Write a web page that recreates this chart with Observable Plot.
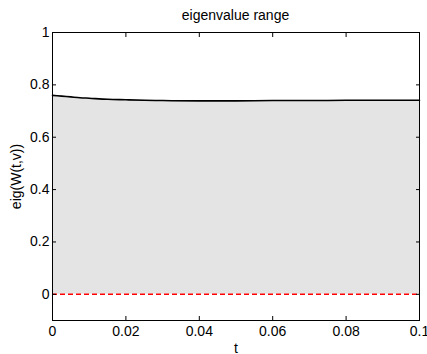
<!DOCTYPE html>
<html>
<head>
<meta charset="utf-8">
<script src="https://cdn.jsdelivr.net/npm/d3@7"></script>
<script src="https://cdn.jsdelivr.net/npm/@observablehq/plot@0.6"></script>
<style>
  html, body { margin: 0; padding: 0; background: #fff; }
  #chart { position: relative; width: 427px; height: 354px; }
</style>
</head>
<body>
<div id="chart"></div>
<script>
const tValues = [0, 0.0025, 0.005, 0.0075, 0.01, 0.015, 0.02, 0.025, 0.03, 0.04, 0.05, 0.06, 0.07, 0.08, 0.09, 0.1];
const eigMax  = [0.760, 0.757, 0.754, 0.751, 0.749, 0.745, 0.743, 0.741, 0.740, 0.739, 0.739, 0.740, 0.740, 0.741, 0.741, 0.741];
const xTicks = [0, 0.02, 0.04, 0.06, 0.08, 0.1];
const yTicks = [0, 0.2, 0.4, 0.6, 0.8, 1];
const xLabels = ["0", "0.02", "0.04", "0.06", "0.08", "0.1"];
const yLabels = ["0", "0.2", "0.4", "0.6", "0.8", "1"];
const zeroLine = [0];

const data = tValues.map((t, i) => ({t, v: eigMax[i]}));
const font = "Liberation Sans, Arial, Helvetica, sans-serif";

const chart = Plot.plot({
  width: 427,
  height: 354,
  marginLeft: 52,
  marginRight: 8,
  marginTop: 32,
  marginBottom: 34,
  style: {fontFamily: font, fontSize: "14px", color: "black", background: "white", overflow: "visible"},
  x: {domain: [0, 0.1]},
  y: {domain: [-0.1, 1]},
  marks: [
    Plot.areaY(data, {x: "t", y: "v", fill: "#e4e4e4", curve: "monotone-x"}),
    Plot.ruleY(zeroLine, {stroke: "#ff0000", strokeWidth: 1.6, strokeDasharray: "5,3"}),
    Plot.lineY(data, {x: "t", y: "v", stroke: "black", strokeWidth: 1.6, curve: "monotone-x"}),
    Plot.frame({stroke: "black", strokeWidth: 1}),
    Plot.axisX({ticks: xTicks, tickSize: 0, tickPadding: 6, tickFormat: (d, i) => xLabels[xTicks.indexOf(d)], label: "t", labelAnchor: "center", labelArrow: "none", labelOffset: 32, fontSize: 14}),
    Plot.axisY({ticks: yTicks, tickSize: 0, tickPadding: 3, tickFormat: d => yLabels[yTicks.indexOf(d)], label: "eig(W(t,v))", labelAnchor: "center", labelArrow: "none", labelOffset: 41, fontSize: 14}),
    Plot.axisX({ticks: xTicks, anchor: "bottom", tickSize: -4, fill: "none", label: null}),
    Plot.axisX({ticks: xTicks, anchor: "top", tickSize: -4, fill: "none", label: null}),
    Plot.axisY({ticks: yTicks, anchor: "left", tickSize: -4, fill: "none", label: null}),
    Plot.axisY({ticks: yTicks, anchor: "right", tickSize: -4, fill: "none", label: null})
  ]
});

const wrap = document.getElementById("chart");
wrap.appendChild(chart);

const svg = d3.select(chart);
svg.append("text")
  .attr("x", (52 + 419) / 2)
  .attr("y", 20)
  .attr("text-anchor", "middle")
  .attr("font-family", font)
  .attr("font-size", 14)
  .attr("fill", "black")
  .text("eigenvalue range");
</script>
</body>
</html>
